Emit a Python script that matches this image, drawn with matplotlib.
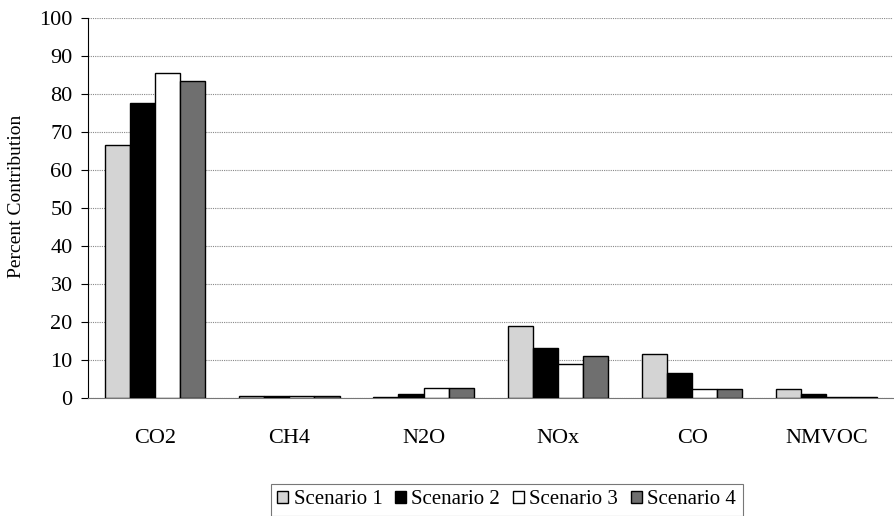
import numpy as np
import matplotlib.pyplot as plt

plt.rcParams['font.family'] = ['Liberation Serif', 'DejaVu Serif']

# percent contribution per gas, one list per scenario
gases = ['CO2', 'CH4', 'N2O', 'NOx', 'CO', 'NMVOC']
scenarios = ['Scenario 1', 'Scenario 2', 'Scenario 3', 'Scenario 4']
s1 = [66.5, 0.5, 0.2, 18.9, 11.7, 2.3]
s2 = [77.6, 0.6, 1.0, 13.2, 6.7, 1.0]
s3 = [85.5, 0.6, 2.5, 9.0, 2.4, 0.2]
s4 = [83.4, 0.4, 2.5, 11.0, 2.3, 0.2]
values = [s1, s2, s3, s4]
colors = ['#d4d4d4', 'black', 'white', '#6f6f6f']

fig = plt.figure(figsize=(8.95, 5.16), dpi=100)
ax = fig.add_axes([0.0983, 0.2287, 0.9, 0.7365])

x = np.arange(len(gases))
w = 0.187
for i, (vals, c) in enumerate(zip(values, colors)):
    ax.bar(x + (i - 1.5) * w, vals, w, color=c, edgecolor='black',
           linewidth=1.0, label=scenarios[i], zorder=3)

ax.set_xlim(-0.5, len(gases) - 0.5)
ax.set_ylim(0, 100)
ax.set_yticks(np.arange(0, 101, 10))
ax.set_xticks(x)
ax.set_xticklabels(gases, fontsize=16)
ax.tick_params(axis='y', labelsize=16, direction='out', length=5, pad=6)
ax.tick_params(axis='x', length=0, pad=22)
ax.set_ylabel('Percent Contribution', fontsize=14)
ax.yaxis.set_label_coords(-0.078, 0.53)
ax.yaxis.grid(True, color='#888888', linestyle=(0, (1, 1)), linewidth=0.8, zorder=0)
for s in ['top', 'right']:
    ax.spines[s].set_visible(False)
ax.spines['left'].set_linewidth(0.8)
ax.spines['bottom'].set_color('#777777')

leg = fig.legend(loc='upper center', bbox_to_anchor=(0.566, 0.062), ncol=4, fontsize=15,
                 frameon=True, fancybox=False, handlelength=0.55, handleheight=0.55,
                 handletextpad=0.25, columnspacing=0.6, borderpad=0.3, borderaxespad=0)
leg.get_frame().set_edgecolor('#555555')
leg.get_frame().set_linewidth(0.8)

fig.savefig('out.png', dpi=100)
